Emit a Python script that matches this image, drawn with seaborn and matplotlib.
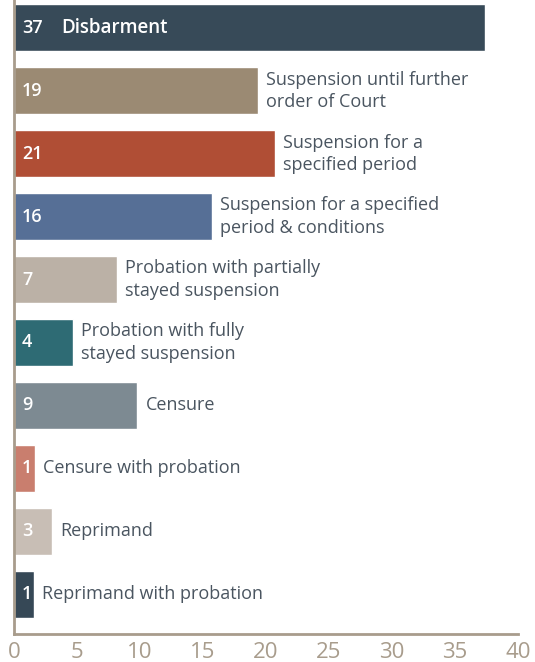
import numpy as np
import pandas as pd
import matplotlib
matplotlib.use('Agg')
import matplotlib.pyplot as plt
import matplotlib.transforms as mtrans
import seaborn as sns

# sanctions, top to bottom
categories = [
    'Disbarment',
    'Suspension until further\norder of Court',
    'Suspension for a\nspecified period',
    'Suspension for a specified\nperiod & conditions',
    'Probation with partially\nstayed suspension',
    'Probation with fully\nstayed suspension',
    'Censure',
    'Censure with probation',
    'Reprimand',
    'Reprimand with probation',
]
counts = [37, 19, 21, 16, 7, 4, 9, 1, 3, 1]
# bar lengths as drawn in the source graphic
bar_lengths = [37.4, 19.4, 20.7, 15.7, 8.2, 4.7, 9.8, 1.7, 3.0, 1.6]
bar_colors = ['#374a58', '#9b8a73', '#b04e35', '#566f96', '#bbb1a6',
              '#2e6b74', '#7d8a92', '#c97e6e', '#c8beb5', '#364856']
x_ticks = [0, 5, 10, 15, 20, 25, 30, 35, 40]

sns.set_theme(style='white')
plt.rcParams['font.family'] = ['Open Sans', 'DejaVu Sans']

df = pd.DataFrame({'category': categories, 'length': bar_lengths})

fig = plt.figure(figsize=(5.35, 6.62), dpi=100)
ax = fig.add_axes([14/535, 28/662, 504/535, 634/662])
sns.barplot(data=df, y='category', x='length', hue='category', palette=bar_colors,
            orient='h', width=0.75, legend=False, saturation=1, ax=ax)

ax.set_xlim(0, 40)
ax.set_ylim(9.63, -0.44)
ax.set_xticks(x_ticks)
ax.set_yticks([])
ax.set_xlabel('')
ax.set_ylabel('')

spine_col = '#a89c8c'
for s in ['top', 'right']:
    ax.spines[s].set_visible(False)
for s in ['left', 'bottom']:
    ax.spines[s].set_color(spine_col)
    ax.spines[s].set_linewidth(2)
ax.tick_params(axis='x', direction='in', length=14, width=2, color=spine_col,
               labelcolor=spine_col, labelsize=16, pad=6)

# number inside bar, category to the right
num_off = mtrans.offset_copy(ax.transData, fig=fig, x=8, y=0, units='dots')
lab_off = mtrans.offset_copy(ax.transData, fig=fig, x=8, y=0, units='dots')
head_off = mtrans.offset_copy(ax.transData, fig=fig, x=47, y=0, units='dots')
for i, (cat, n, w) in enumerate(zip(categories, counts, bar_lengths)):
    ax.text(0, i, str(n), transform=num_off, ha='left', va='center',
            color='white', fontsize=13, fontweight='semibold')
    if i == 0:
        ax.text(0, i, cat, transform=head_off, ha='left', va='center',
                color='white', fontsize=13.5, fontweight='semibold')
    else:
        ax.text(w, i, cat, transform=lab_off, ha='left', va='center',
                color='#4a5560', fontsize=13, linespacing=1.3)

fig.savefig('out.png', dpi=100)
